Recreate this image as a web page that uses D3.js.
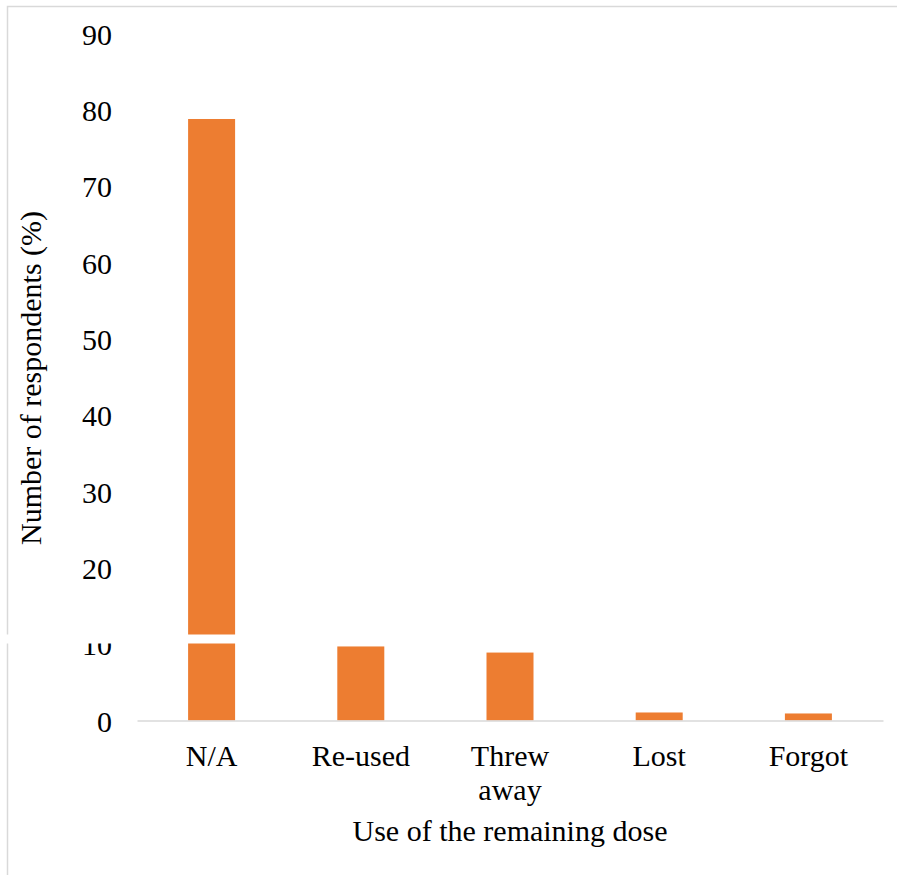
<!DOCTYPE html>
<html>
<head>
<meta charset="utf-8">
<script src="https://cdn.jsdelivr.net/npm/d3@7"></script>
<style>
  html, body { margin: 0; padding: 0; background: #fff; }
  svg { display: block; }
  text { font-family: "Liberation Serif", "Times New Roman", serif; fill: #000; }
</style>
</head>
<body>
<script>
// Use of the remaining dose, share of respondents (%)
const categories = ["N/A", "Re-used", "Threw away", "Lost", "Forgot"];
const values = [78.8, 9.7, 8.9, 1.05, 0.92];
const yTicks = [0, 10, 20, 30, 40, 50, 60, 70, 80, 90];
const xTitle = "Use of the remaining dose";
const yTitle = "Number of respondents (%)";

const W = 897, H = 875;
const FONT = 30;
const plot = { left: 137, right: 883, top: 33.5, bottom: 720.5 };

const svg = d3.select("body").append("svg")
  .attr("width", W).attr("height", H);

// chart area outline
svg.append("rect")
  .attr("x", 7.5).attr("y", 6.5)
  .attr("width", W + 10).attr("height", H + 10)
  .attr("fill", "none").attr("stroke", "#d9d9d9").attr("stroke-width", 1.5);

const x = d3.scaleBand()
  .domain(categories)
  .range([plot.left, plot.right])
  .paddingInner(0.685)
  .paddingOuter(0.3425);

const y = d3.scaleLinear()
  .domain([0, 90])
  .range([plot.bottom, plot.top]);

// bars
svg.append("g").selectAll("rect")
  .data(categories.map((c, i) => ({ c, v: values[i] })))
  .join("rect")
  .attr("x", d => x(d.c))
  .attr("width", x.bandwidth())
  .attr("y", d => y(d.v))
  .attr("height", d => y(0) - y(d.v))
  .attr("fill", "#ED7D31");

// y axis: labels only
const yAxis = svg.append("g")
  .attr("transform", `translate(${plot.left - 25},0)`)
  .call(d3.axisLeft(y).tickValues(yTicks).tickSize(0).tickPadding(0));
yAxis.select(".domain").remove();
yAxis.selectAll("text")
  .attr("font-size", FONT)
  .attr("dy", "0.36em")
  .style("font-family", "'Liberation Serif', serif");

// x axis: baseline and wrapped category labels
const xAxis = svg.append("g")
  .attr("transform", `translate(0,${plot.bottom})`)
  .call(d3.axisBottom(x).tickSize(0).tickPadding(0));
xAxis.select(".domain")
  .attr("stroke", "#d9d9d9").attr("stroke-width", 1.5);
xAxis.selectAll("text").each(function (d) {
  const t = d3.select(this);
  const words = d === "Threw away" ? ["Threw", "away"] : [d];
  t.text(null)
    .attr("font-size", FONT)
    .style("font-family", "'Liberation Serif', serif")
    .attr("y", 0).attr("dy", null);
  words.forEach((w, i) => {
    t.append("tspan")
      .attr("x", 0)
      .attr("y", 45 + i * 34)
      .text(w);
  });
});

// axis titles
svg.append("text")
  .attr("x", (plot.left + plot.right) / 2)
  .attr("y", 841)
  .attr("text-anchor", "middle")
  .attr("font-size", FONT)
  .text(xTitle);

svg.append("text")
  .attr("transform", `translate(41,378) rotate(-90)`)
  .attr("text-anchor", "middle")
  .attr("font-size", FONT)
  .text(yTitle);

// horizontal white seam across the figure
svg.append("rect")
  .attr("x", 0).attr("y", 634.5)
  .attr("width", W).attr("height", 9)
  .attr("fill", "#fff");
</script>
</body>
</html>
